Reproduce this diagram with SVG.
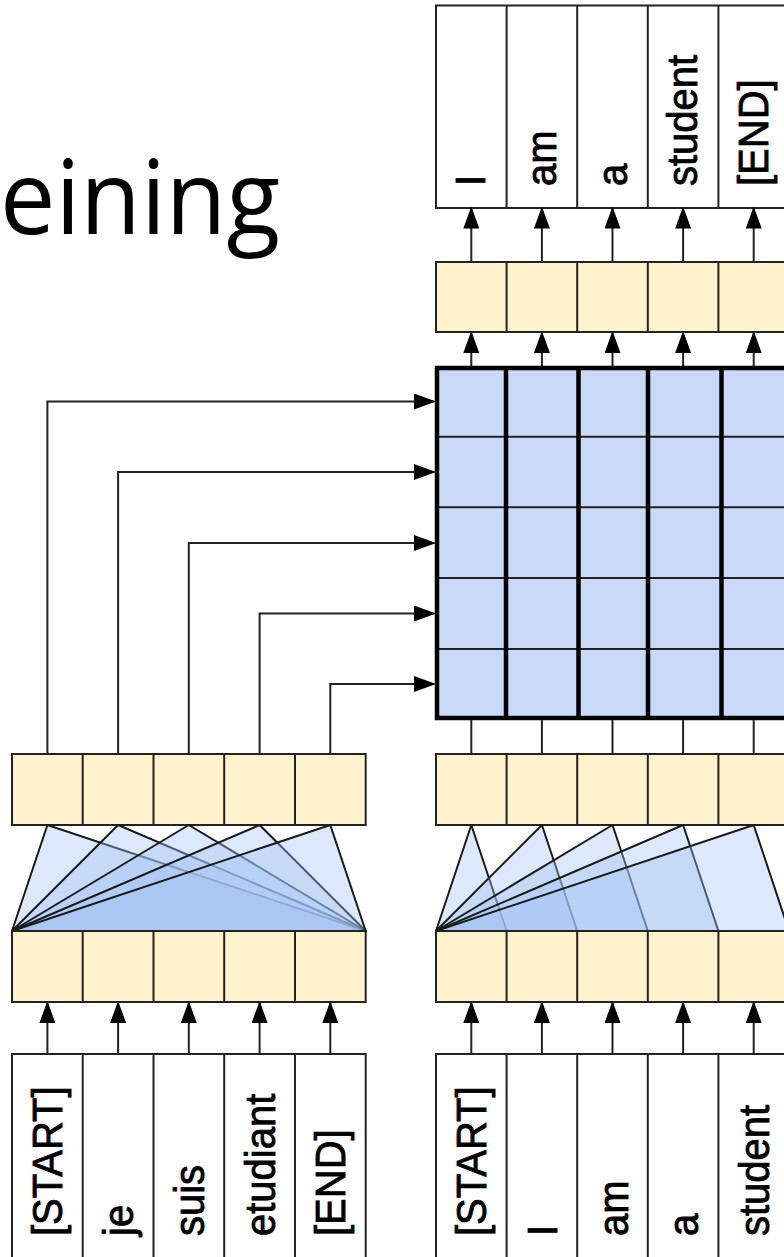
<svg xmlns="http://www.w3.org/2000/svg" width="784" height="1257" viewBox="0 0 784 1257">
<style>
.box{fill:#ffffff;stroke:#222;stroke-width:2}
.tan{fill:#fff2cc;stroke:#222;stroke-width:2}
.conn{fill:none;stroke:#222;stroke-width:2}
.arr{fill:none;stroke:#222;stroke-width:2;marker-end:url(#ah)}
.lbl{font-family:"Liberation Sans",Arial,sans-serif;font-size:40px;fill:#000;stroke:#000;stroke-width:0.8}
.att{fill:#a4c2f4;fill-opacity:0.38;stroke:#1a1a1a;stroke-width:2;stroke-linejoin:round}
.thin{stroke:#222;stroke-width:2}
.thick{stroke:#000;stroke-width:4.5}
.title{font-family:"Open Sans","Noto Sans",sans-serif;font-weight:370;font-size:102px;fill:#000}
</style>
<defs>
<marker id="ah" markerUnits="userSpaceOnUse" markerWidth="22" markerHeight="16" refX="20" refY="8" orient="auto">
<path d="M0,0 L22,8 L0,16 Z" fill="#000"/>
</marker>
</defs>
<rect width="784" height="1257" fill="#fff"/>

<g id="title"><text class="title" x="0" y="234" textLength="280" lengthAdjust="spacingAndGlyphs">eining</text></g>

<g id="output-labels">
<rect class="box" x="436" y="5.5" width="353" height="202.5"/>
<path class="thin" d="M506.6,5.5V208M577.2,5.5V208M647.8,5.5V208M718.4,5.5V208"/>
<text class="lbl" transform="translate(485.3,186) rotate(-90) scale(1,1.07)">I</text>
<text class="lbl" transform="translate(555.9,186) rotate(-90) scale(1,1.07)">am</text>
<text class="lbl" transform="translate(626.5,186) rotate(-90) scale(1,1.07)">a</text>
<text class="lbl" transform="translate(697.1,186) rotate(-90) scale(1,1.07)">student</text>
<text class="lbl" transform="translate(767.7,186) rotate(-90) scale(1,1.07)">[END]</text>
</g>

<g id="decoder-output-row">
<rect class="tan" x="436" y="262" width="353" height="70"/>
<path class="thin" d="M506.6,262V332M577.2,262V332M647.8,262V332M718.4,262V332"/>
</g>

<g id="cross-attention-grid">
<rect x="437" y="368" width="352" height="350" fill="#c9daf8"/>
<path class="thin" d="M437,436.7H789M437,507.3H789M437,578H789M437,649H789"/>
<path class="thick" d="M506,368V718M578.5,368V718M648,368V718M721.5,368V718"/>
<rect x="437" y="368" width="352" height="350" fill="none" stroke="#000" stroke-width="4.5"/>
</g>

<g id="encoder-output-row">
<rect class="tan" x="12" y="754" width="353.7" height="71"/>
<path class="thin" d="M82.7,754V825M153.5,754V825M224.2,754V825M295,754V825"/>
</g>

<g id="decoder-mid-row">
<rect class="tan" x="436" y="754" width="353" height="71"/>
<path class="thin" d="M506.6,754V825M577.2,754V825M647.8,754V825M718.4,754V825"/>
</g>

<g id="encoder-self-attention">
<polygon class="att" points="47.4,825 12,931 365.7,931"/>
<polygon class="att" points="118.1,825 12,931 365.7,931"/>
<polygon class="att" points="188.8,825 12,931 365.7,931"/>
<polygon class="att" points="259.6,825 12,931 365.7,931"/>
<polygon class="att" points="330.3,825 12,931 365.7,931"/>
</g>

<g id="decoder-causal-attention">
<polygon class="att" points="471.3,825 436,931 506.6,931"/>
<polygon class="att" points="541.9,825 436,931 577.2,931"/>
<polygon class="att" points="612.5,825 436,931 647.8,931"/>
<polygon class="att" points="683.1,825 436,931 718.4,931"/>
<polygon class="att" points="753.7,825 436,931 789,931"/>
</g>

<g id="encoder-embed-row">
<rect class="tan" x="12" y="931" width="353.7" height="71"/>
<path class="thin" d="M82.7,931V1002M153.5,931V1002M224.2,931V1002M295,931V1002"/>
</g>

<g id="decoder-embed-row">
<rect class="tan" x="436" y="931" width="353" height="71"/>
<path class="thin" d="M506.6,931V1002M577.2,931V1002M647.8,931V1002M718.4,931V1002"/>
</g>

<g id="encoder-input-labels">
<rect class="box" x="12" y="1054" width="353.7" height="210"/>
<path class="thin" d="M82.7,1054V1264M153.5,1054V1264M224.2,1054V1264M295,1054V1264"/>
<text class="lbl" transform="translate(62.4,1236) rotate(-90) scale(1,1.07)">[START]</text>
<text class="lbl" transform="translate(133.1,1236) rotate(-90) scale(1,1.07)">je</text>
<text class="lbl" transform="translate(203.8,1236) rotate(-90) scale(1,1.07)">suis</text>
<text class="lbl" transform="translate(274.6,1236) rotate(-90) scale(1,1.07)">etudiant</text>
<text class="lbl" transform="translate(345.3,1236) rotate(-90) scale(1,1.07)">[END]</text>
</g>

<g id="decoder-input-labels">
<rect class="box" x="436" y="1054" width="353" height="210"/>
<path class="thin" d="M506.6,1054V1264M577.2,1054V1264M647.8,1054V1264M718.4,1054V1264"/>
<text class="lbl" transform="translate(486.3,1236) rotate(-90) scale(1,1.07)">[START]</text>
<text class="lbl" transform="translate(556.9,1236) rotate(-90) scale(1,1.07)">I</text>
<text class="lbl" transform="translate(627.5,1236) rotate(-90) scale(1,1.07)">am</text>
<text class="lbl" transform="translate(698.1,1236) rotate(-90) scale(1,1.07)">a</text>
<text class="lbl" transform="translate(768.7,1236) rotate(-90) scale(1,1.07)">student</text>
</g>

<g id="connectors">
<path class="arr" d="M471.3,262V208.5"/>
<path class="arr" d="M541.9,262V208.5"/>
<path class="arr" d="M612.5,262V208.5"/>
<path class="arr" d="M683.1,262V208.5"/>
<path class="arr" d="M753.7,262V208.5"/>
<path class="arr" d="M471.3,366V333"/>
<path class="arr" d="M541.9,366V333"/>
<path class="arr" d="M612.5,366V333"/>
<path class="arr" d="M683.1,366V333"/>
<path class="arr" d="M753.7,366V333"/>
<path class="conn" d="M471.3,720V754M541.9,720V754M612.5,720V754M683.1,720V754M753.7,720V754"/>
<path class="arr" d="M47.4,754V401.5H434"/>
<path class="arr" d="M118.1,754V472H434"/>
<path class="arr" d="M188.8,754V543H434"/>
<path class="arr" d="M259.6,754V613.5H434"/>
<path class="arr" d="M330.3,754V684H434"/>
<path class="arr" d="M47.4,1054V1003"/>
<path class="arr" d="M118.1,1054V1003"/>
<path class="arr" d="M188.8,1054V1003"/>
<path class="arr" d="M259.6,1054V1003"/>
<path class="arr" d="M330.3,1054V1003"/>
<path class="arr" d="M471.3,1054V1003"/>
<path class="arr" d="M541.9,1054V1003"/>
<path class="arr" d="M612.5,1054V1003"/>
<path class="arr" d="M683.1,1054V1003"/>
<path class="arr" d="M753.7,1054V1003"/>
</g>
</svg>
